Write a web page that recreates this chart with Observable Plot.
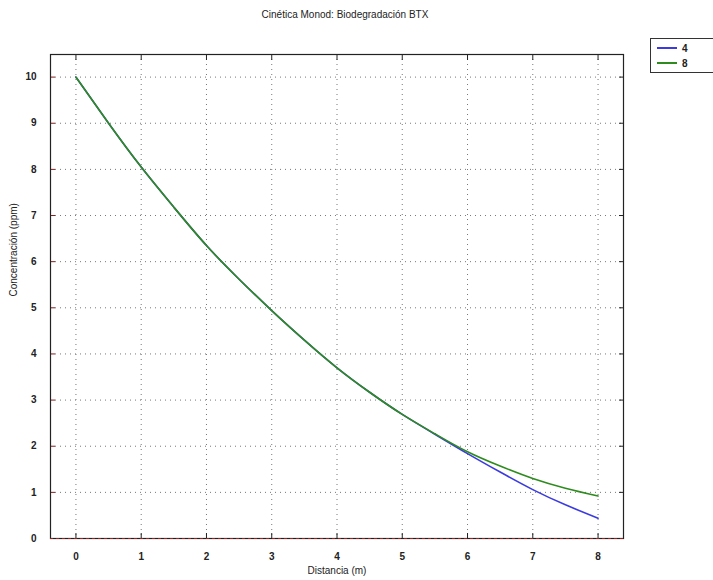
<!DOCTYPE html>
<html>
<head>
<meta charset="utf-8">
<script src="https://cdn.jsdelivr.net/npm/d3@7"></script>
<script src="https://cdn.jsdelivr.net/npm/@observablehq/plot@0.6"></script>
<style>
  body { margin: 0; background: #fff; font-family: "Liberation Sans", Arial, sans-serif; }
  #wrap { position: relative; width: 713px; height: 580px; overflow: hidden; }
  #title { position: absolute; left: 0; top: 9px; width: 690px; text-align: center; font-size: 10px; color: #222; }
  #chart { position: absolute; left: 0; top: 0; }
  #legend { position: absolute; left: 650px; top: 38px; width: 80px; height: 33px; border: 1px solid #333; background: #fff; font-size: 10px; font-weight: bold; color: #222; }
  .item { position: absolute; left: 6px; display: flex; align-items: center; height: 12px; }
  .item span.ln { display: inline-block; width: 20px; height: 2px; margin-right: 5px; }
</style>
</head>
<body>
<div id="wrap">
  <div id="chart"></div>
  <div id="title">Cinética Monod: Biodegradación BTX</div>
  <div id="legend"></div>
</div>
<script>
const distancia = [0, 0.5, 1, 1.5, 2, 2.5, 3, 3.5, 4, 4.5, 5, 5.5, 6, 6.5, 7, 7.5, 8];
const conc4 = [10, 9.0, 8.05, 7.18, 6.35, 5.62, 4.94, 4.30, 3.70, 3.17, 2.69, 2.26, 1.84, 1.44, 1.06, 0.73, 0.44];
const conc8 = [10, 9.0, 8.05, 7.18, 6.35, 5.62, 4.94, 4.30, 3.70, 3.17, 2.69, 2.27, 1.88, 1.57, 1.30, 1.09, 0.92];
const seriesNames = ["4", "8"];
const seriesColors = ["#3b3be0", "#2e8b1e"];
const xTicks = [0, 1, 2, 3, 4, 5, 6, 7, 8];
const yTicks = [0, 1, 2, 3, 4, 5, 6, 7, 8, 9, 10];
const xLabel = "Distancia (m)";
const yLabel = "Concentración (ppm)";

const rows4 = distancia.map((d, i) => ({x: d, y: conc4[i]}));
const rows8 = distancia.map((d, i) => ({x: d, y: conc8[i]}));

const tickStyle = {fontWeight: "bold", fontSize: 10};
const chart = Plot.plot({
  width: 713,
  height: 580,
  marginLeft: 50,
  marginRight: 90,
  marginTop: 54,
  marginBottom: 42,
  style: {fontFamily: "Liberation Sans, Arial, sans-serif", fontSize: "10px", color: "#222", background: "#fff"},
  x: {domain: [-0.39, 8.39]},
  y: {domain: [0, 10.49]},
  marks: [
    Plot.ruleX(xTicks, {x: d => d, stroke: "#777", strokeDasharray: "1,4", strokeWidth: 1}),
    Plot.ruleY(yTicks.filter(d => d > 0), {y: d => d, stroke: "#777", strokeDasharray: "1,4", strokeWidth: 1}),
    Plot.axisX(xTicks, {anchor: "bottom", tickSize: 0, tickPadding: 14, ...tickStyle, label: null}),
    Plot.axisY(yTicks, {anchor: "left", tickSize: 0, tickPadding: 14, ...tickStyle, label: null}),
    Plot.text([xLabel], {text: d => d, frameAnchor: "bottom", dy: 35, fontSize: 10, fill: "#222"}),
    Plot.text([yLabel], {text: d => d, frameAnchor: "left", rotate: -90, dx: -37, fontSize: 10, fill: "#222"}),
    Plot.axisX(xTicks, {anchor: "bottom", tickSize: -5, text: null, label: null, stroke: "#222"}),
    Plot.axisX(xTicks, {anchor: "top", tickSize: -5, text: null, label: null, stroke: "#222"}),
    Plot.axisY(yTicks, {anchor: "left", tickSize: -5, text: null, label: null, stroke: "#8a1a1a"}),
    Plot.axisY(yTicks, {anchor: "right", tickSize: -5, text: null, label: null, stroke: "#222"}),
    Plot.line(rows4, {x: "x", y: "y", stroke: seriesColors[0], strokeWidth: 1.6, curve: "natural"}),
    Plot.line(rows8, {x: "x", y: "y", stroke: seriesColors[1], strokeWidth: 1.6, curve: "natural"}),
    Plot.frame({stroke: "#222", strokeWidth: 1.2}),
    Plot.ruleY([0], {stroke: "#a02020", strokeDasharray: "3,3", strokeWidth: 1.2})
  ]
});
document.getElementById("chart").appendChild(chart);

const legend = document.getElementById("legend");
seriesNames.forEach((name, i) => {
  const item = document.createElement("div");
  item.className = "item";
  item.style.top = (3 + i * 15) + "px";
  const ln = document.createElement("span");
  ln.className = "ln";
  ln.style.background = seriesColors[i];
  item.appendChild(ln);
  item.appendChild(document.createTextNode(name));
  legend.appendChild(item);
});
</script>
</body>
</html>
